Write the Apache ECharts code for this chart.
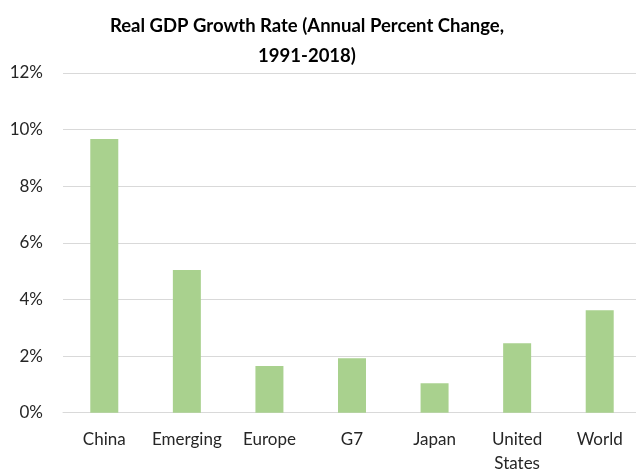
<!DOCTYPE html>
<html>
<head>
<meta charset="utf-8">
<script src="https://cdn.jsdelivr.net/npm/echarts@6/dist/echarts.min.js"></script>
<style>html,body{margin:0;padding:0;background:#fff;}#c{width:636px;height:472px;}</style>
</head>
<body>
<div id="c"></div>
<script>
var categories = ['China', 'Emerging', 'Europe', 'G7', 'Japan', 'United\nStates', 'World'];
var growth = [9.67, 5.04, 1.65, 1.92, 1.04, 2.45, 3.62];
var yTicks = [0, 2, 4, 6, 8, 10, 12];

var chart = echarts.init(document.getElementById('c'));
chart.setOption({
  backgroundColor: '#ffffff',
  animation: false,
  title: {
    text: 'Real GDP Growth Rate (Annual Percent Change,\n1991-2018)',
    left: 302,
    top: 6,
    textAlign: 'center',
    textStyle: { fontFamily: 'Lato', fontWeight: 'bold', fontSize: 18.5, color: '#000', lineHeight: 30 }
  },
  grid: { left: 63, top: 73, width: 578, height: 339.7, containLabel: false, outerBoundsMode: 'none' },
  xAxis: {
    type: 'category',
    data: categories,
    axisLine: { lineStyle: { color: '#D9D9D9', width: 1 } },
    axisTick: { show: false },
    axisLabel: { color: '#262626', fontFamily: 'Lato', fontSize: 17, lineHeight: 24, margin: 15, interval: 0 }
  },
  yAxis: {
    type: 'value',
    min: yTicks[0],
    max: yTicks[yTicks.length - 1],
    interval: 2,
    axisLine: { show: false },
    axisTick: { show: false },
    splitLine: { lineStyle: { color: '#D9D9D9', width: 1 } },
    axisLabel: { color: '#262626', fontFamily: 'Lato', fontSize: 17, margin: 20, formatter: '{value}%' }
  },
  series: [{
    type: 'bar',
    data: growth,
    barWidth: 28,
    itemStyle: { color: '#A9D18E' }
  }]
});
</script>
</body>
</html>
